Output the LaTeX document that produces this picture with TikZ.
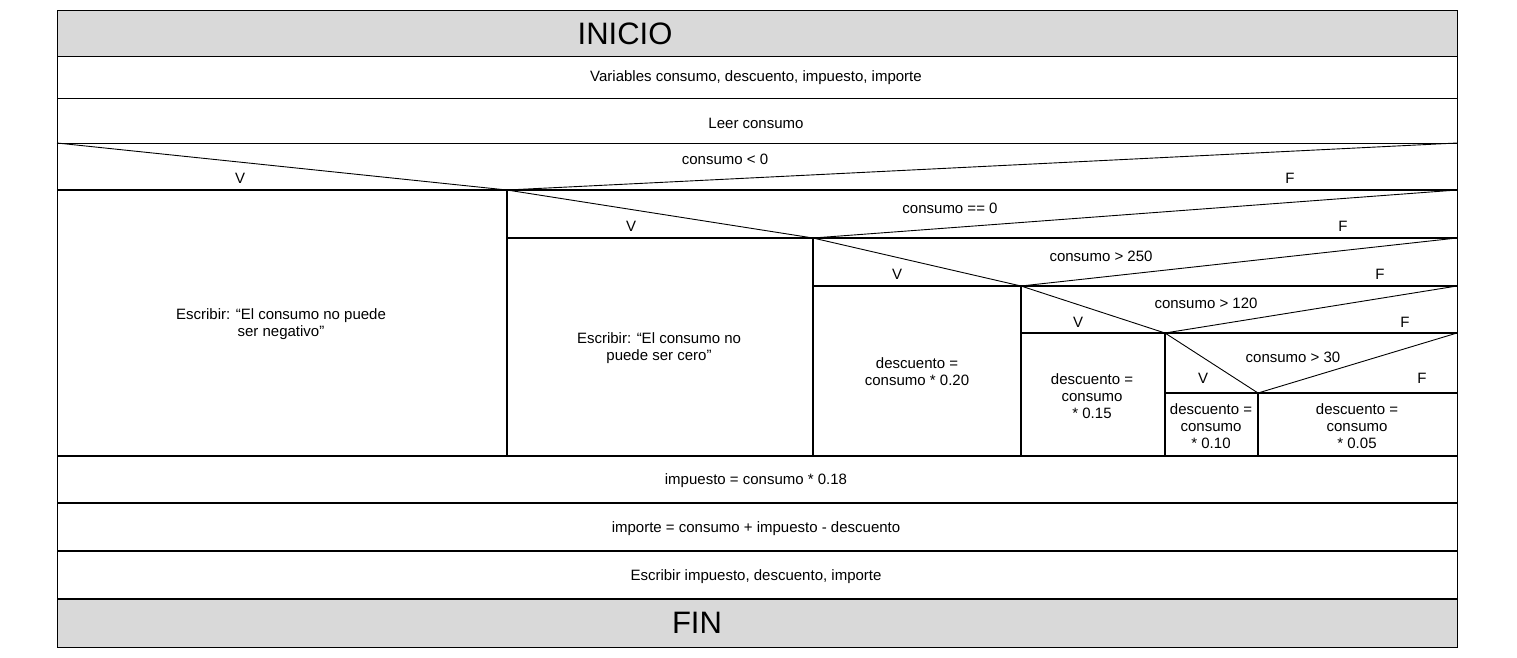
\documentclass[tikz,border=0pt]{standalone}
\usepackage{fontspec}
\setmainfont{Liberation Sans}
\begin{document}
\begin{tikzpicture}[x=1pt,y=-1pt,
  thinl/.style={line width=0.9pt,black},
  thickl/.style={line width=1.8pt,black},
  txt/.style={font=\fontsize{15}{17}\selectfont,align=center,inner sep=0pt,yshift=-1pt},
  big/.style={font=\fontsize{31}{34}\selectfont,inner sep=0pt},
  band/.style={fill=bandgray,draw=black,line width=0.9pt}]
\definecolor{bandgray}{HTML}{D9D9D9}
\useasboundingbox (0,0) rectangle (1517,657);
% bands
\draw[band] (57,10) rectangle (1457,56);
\draw[band] (57,599) rectangle (1457,647);
% outer frame
\draw[thinl] (57,56) -- (57,599);
\draw[thinl] (1457,56) -- (1457,599);
% top rows
\draw[thinl] (57,98) -- (1457,98);
\draw[thinl] (57,143) -- (1457,143);
\draw[thickl] (57,190) -- (1457,190);
% decision 1
\draw[thinl] (57,143) -- (507,190) -- (1457,143);
\draw[thickl] (507,190) -- (507,456);
% decision 2
\draw[thinl] (507,190) -- (813,238) -- (1457,190);
\draw[thickl] (507,238) -- (1457,238);
\draw[thickl] (813,238) -- (813,456);
% decision 3
\draw[thinl] (813,238) -- (1021,286) -- (1457,238);
\draw[thickl] (813,286) -- (1457,286);
\draw[thickl] (1021,286) -- (1021,456);
% decision 4
\draw[thinl] (1021,286) -- (1165,333) -- (1457,286);
\draw[thickl] (1021,333) -- (1457,333);
\draw[thickl] (1165,333) -- (1165,456);
% decision 5
\draw[thinl] (1165,333) -- (1258,393) -- (1457,333);
\draw[thickl] (1165,393) -- (1457,393);
\draw[thickl] (1258,393) -- (1258,456);
% bottom rows
\draw[thickl] (57,456) -- (1457,456);
\draw[thickl] (57,503) -- (1457,503);
\draw[thickl] (57,551) -- (1457,551);
\draw[thickl] (57,599) -- (1457,599);
% texts
\node[big] (inicio) at (625,34) {INICIO};
\node[big] (fin) at (697,623) {FIN};
\node[txt] (vars) at (756,77) {Variables consumo, descuento, impuesto, importe};
\node[txt] (leer) at (756,122) {Leer consumo};
\node[txt] (c1) at (725,158) {consumo < 0};
\node[txt] (c1v) at (240,177) {V};
\node[txt] (c1f) at (1290,177) {F};
\node[txt] (c2) at (950,207) {consumo == 0};
\node[txt] (c2v) at (631,225) {V};
\node[txt] (c2f) at (1343,225) {F};
\node[txt] (c3) at (1101,255) {consumo > 250};
\node[txt] (c3v) at (897,273) {V};
\node[txt] (c3f) at (1380,273) {F};
\node[txt] (c4) at (1206,302) {consumo > 120};
\node[txt] (c4v) at (1078,321) {V};
\node[txt] (c4f) at (1405,321) {F};
\node[txt] (c5) at (1293,356) {consumo > 30};
\node[txt] (c5v) at (1203,377) {V};
\node[txt] (c5f) at (1422,377) {F};
\node[txt] (neg) at (281,323) {Escribir: “El consumo no puede\\ser negativo”};
\node[txt] (cero) at (659,347) {Escribir: “El consumo no\\puede ser cero”};
\node[txt] (d20) at (917,371) {descuento =\\consumo * 0.20};
\node[txt] (d15) at (1092,395) {descuento =\\consumo\\* 0.15};
\node[txt] (d10) at (1211,425) {descuento =\\consumo\\* 0.10};
\node[txt] (d05) at (1357,425) {descuento =\\consumo\\* 0.05};
\node[txt] (imp) at (756,480) {impuesto = consumo * 0.18};
\node[txt] (impo) at (756,528) {importe = consumo + impuesto - descuento};
\node[txt] (esc) at (756,576) {Escribir impuesto, descuento, importe};
\end{tikzpicture}
\end{document}
